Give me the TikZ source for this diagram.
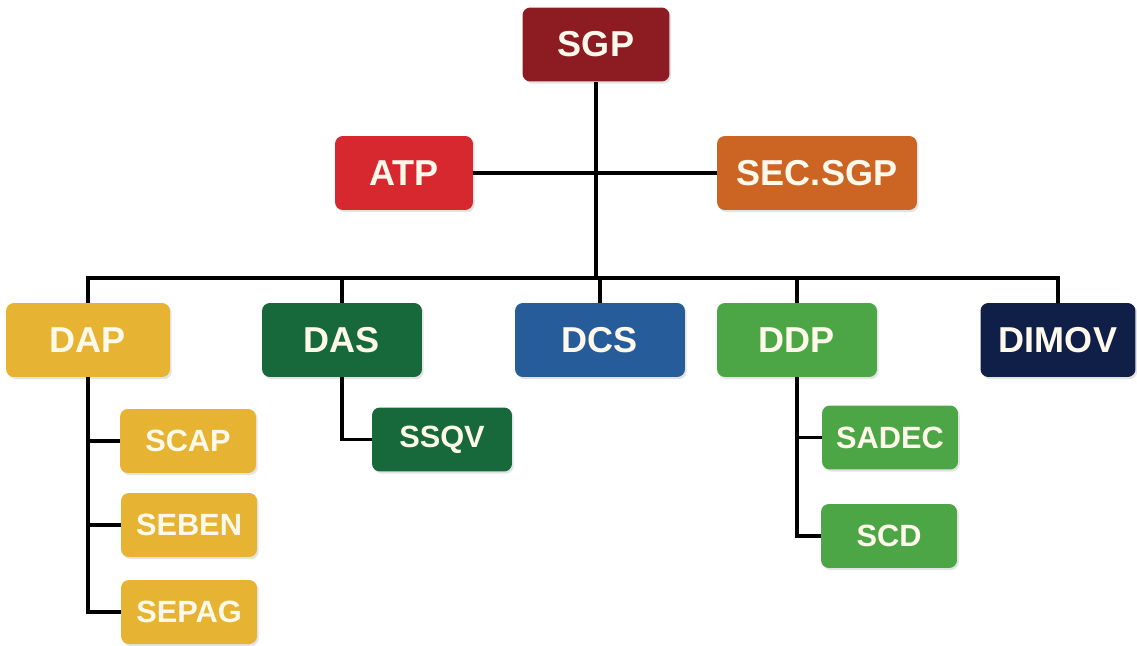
\documentclass[tikz,border=0pt]{standalone}
\usepackage{fontspec}
\setmainfont{Liberation Sans}
\usepackage{tikz}
\usepackage{xcolor}
\usetikzlibrary{positioning,shadows}
\definecolor{sgpred}   {HTML}{8C1B22}
\definecolor{atpred}   {HTML}{D7282F}
\definecolor{secorange}{HTML}{CC6524}
\definecolor{dapyellow}{HTML}{E6B432}
\definecolor{dasgreen} {HTML}{17683A}
\definecolor{dcsblue}  {HTML}{275C9B}
\definecolor{ddpgreen} {HTML}{4DA646}
\definecolor{dimovnavy}{HTML}{0F1F47}
\definecolor{boxtext}  {HTML}{FFF9EC}
\tikzset{
  orgbox/.style ={draw=none, rounded corners=4.5pt, text=boxtext,
                  minimum height=1.48cm, inner sep=2pt, align=center,
                  font=\fontsize{20.5}{22}\selectfont\bfseries,
                  drop shadow={opacity=0.22, shadow xshift=1pt, shadow yshift=-1.2pt}},
  subbox/.style ={orgbox, minimum width=2.72cm, minimum height=1.28cm,
                  font=\fontsize{17.5}{19}\selectfont\bfseries},
  link/.style   ={draw=black, line width=2pt},
}

\begin{document}
\begin{tikzpicture}[x=0.02cm,y=-0.02cm]
    \useasboundingbox (0,0) rectangle (1137,646);

    % top
    \node[orgbox,fill=sgpred,minimum width=2.94cm] (sgp) at (596,44.5) {SGP};
    \node[orgbox,fill=atpred,minimum width=2.76cm] (atp) at (404,173) {ATP};
    \node[orgbox,fill=secorange,minimum width=4.0cm] (sec) at (817,173) {SEC.SGP};

    % directorates
    \node[orgbox,fill=dapyellow,minimum width=3.28cm] (dap) at (88,340) {DAP};
    \node[orgbox,fill=dasgreen,minimum width=3.2cm] (das) at (342,340) {DAS};
    \node[orgbox,fill=dcsblue,minimum width=3.4cm] (dcs) at (600,340) {DCS};
    \node[orgbox,fill=ddpgreen,minimum width=3.2cm] (ddp) at (797,340) {DDP};
    \node[orgbox,fill=dimovnavy,minimum width=3.1cm] (dimov) at (1058,340) {DIMOV};

    % sections
    \node[subbox,fill=dapyellow] (scap) at (188,441) {SCAP};
    \node[subbox,fill=dapyellow] (seben) at (189,525) {SEBEN};
    \node[subbox,fill=dapyellow] (sepag) at (189,612) {SEPAG};
    \node[subbox,fill=dasgreen,minimum width=2.8cm] (ssqv) at (442,439.5) {SSQV};
    \node[subbox,fill=ddpgreen] (sadec) at (890,437.5) {SADEC};
    \node[subbox,fill=ddpgreen] (scd) at (889,536) {SCD};

    \coordinate (bus) at (sgp.south |- 0,278);

    \draw[link] (sgp.south) -- (bus);
    \draw[link] (atp.east) -- (sec.west);
    \draw[link] (dap.north) |- (bus) -| (dimov.north);
    \draw[link] (das.north) -- (das.north |- bus);
    \draw[link] (dcs.north) -- (dcs.north |- bus);
    \draw[link] (ddp.north) -- (ddp.north |- bus);

    \draw[link] (dap.south) |- (sepag.west);
    \draw[link] (dap.south |- scap.west) -- (scap.west);
    \draw[link] (dap.south |- seben.west) -- (seben.west);
    \draw[link] (das.south) |- (ssqv.west);
    \draw[link] (ddp.south) |- (scd.west);
    \draw[link] (ddp.south |- sadec.west) -- (sadec.west);
\end{tikzpicture}
\end{document}
